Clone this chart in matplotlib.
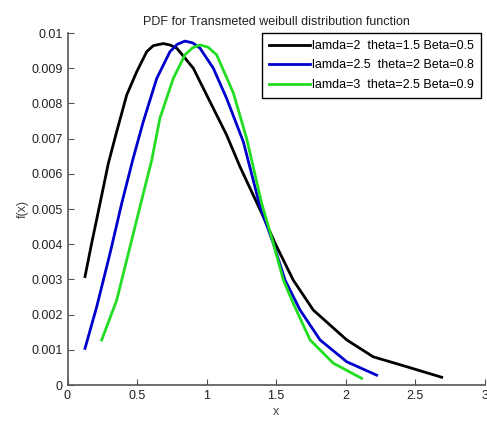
import numpy as np
import matplotlib.pyplot as plt
import matplotlib as mpl
mpl.rcParams['font.family'] = ['Liberation Sans', 'DejaVu Sans']

# values
x1 = [0.126, 0.174, 0.234, 0.294, 0.354, 0.426, 0.498, 0.57, 0.617, 0.689, 0.737, 0.786, 0.905, 1.025, 1.145,
      1.241, 1.409, 1.493, 1.624, 1.768, 2.009, 2.2, 2.44, 2.692]
y1 = [0.00308, 0.00403, 0.00516, 0.0063, 0.0072, 0.00824, 0.0089, 0.00947, 0.00964, 0.0097, 0.00966, 0.00957,
      0.009, 0.00805, 0.0071, 0.0062, 0.00478, 0.00403, 0.00298, 0.00213, 0.00128, 0.0008, 0.00052, 0.00022]

x2 = [0.126, 0.21, 0.306, 0.39, 0.469, 0.545, 0.642, 0.737, 0.79, 0.845, 0.90, 0.953, 1.049, 1.145, 1.265,
      1.385, 1.48, 1.565, 1.673, 1.817, 2.009, 2.224]
y2 = [0.00104, 0.00222, 0.00374, 0.00516, 0.00639, 0.00748, 0.00871, 0.00947, 0.00968, 0.00977, 0.00972,
      0.00957, 0.009, 0.00814, 0.00691, 0.00507, 0.00403, 0.00298, 0.00213, 0.00128, 0.00066, 0.00028]

x3 = [0.246, 0.354, 0.438, 0.522, 0.606, 0.665, 0.761, 0.845, 0.90, 0.953, 1.01, 1.073, 1.193, 1.289, 1.397,
      1.48, 1.553, 1.624, 1.745, 1.912, 2.116]
y3 = [0.00128, 0.00241, 0.00374, 0.00507, 0.00639, 0.00758, 0.00871, 0.00938, 0.00958, 0.00966, 0.0096,
      0.00938, 0.0083, 0.007, 0.00516, 0.00403, 0.00298, 0.00232, 0.00128, 0.00062, 0.00019]

labels = ['lamda=2  theta=1.5 Beta=0.5',
          'lamda=2.5  theta=2 Beta=0.8',
          'lamda=3  theta=2.5 Beta=0.9']

fig = plt.figure(figsize=(4.87, 4.21), dpi=100)
ax = fig.add_axes([67.5/487, 36/421, 417/487, 352/421])

ax.plot(x1, y1, color='black', linewidth=2, label=labels[0])
ax.plot(x2, y2, color='#0000cc', linewidth=2, label=labels[1])
ax.plot(x3, y3, color='#22dd22', linewidth=2, label=labels[2])

ax.set_xlim(0, 3)
ax.set_ylim(0, 0.01)
ax.set_xticks(np.arange(0, 3.01, 0.5))
ax.set_xticklabels(['0', '0.5', '1', '1.5', '2', '2.5', '3'])
ax.set_yticks(np.arange(0, 0.0101, 0.001))
ax.set_yticklabels(['0'] + ['%.3f' % v for v in np.arange(0.001, 0.0095, 0.001)] + ['0.01'])

for s in ['top', 'right']:
    ax.spines[s].set_visible(False)
for s in ['left', 'bottom']:
    ax.spines[s].set_color('#555555')
    ax.spines[s].set_linewidth(1.2)
ax.tick_params(direction='in', length=4, colors='#555555', labelcolor='#222222', labelsize=9)

ax.set_title('PDF for Transmeted weibull distribution function', fontsize=9, color='#222222', pad=6)
ax.set_xlabel('x', fontsize=9, color='#444444', labelpad=3)
ax.set_ylabel('f(x)', fontsize=9, color='#444444', labelpad=2)

leg = ax.legend(loc='upper right', bbox_to_anchor=(481/487, 1 - 33/421),
                bbox_transform=fig.transFigure, fontsize=9, fancybox=False,
                framealpha=1, edgecolor='black', borderaxespad=0,
                handlelength=3.3, handletextpad=0.2, labelspacing=0.6,
                borderpad=0.55)
leg.get_frame().set_linewidth(1.0)

fig.savefig('out.png', dpi=100)
